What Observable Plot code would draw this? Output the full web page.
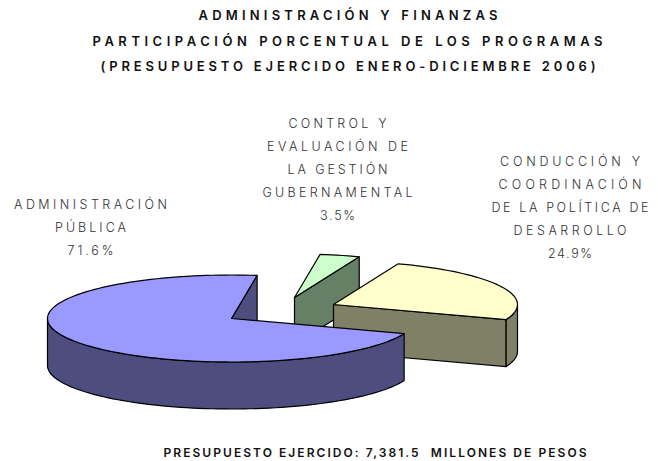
<!DOCTYPE html>
<html><head><meta charset="utf-8">
<script src="https://cdn.jsdelivr.net/npm/d3@7"></script>
<script src="https://cdn.jsdelivr.net/npm/@observablehq/plot@0.6"></script>
<style>html,body{margin:0;padding:0;background:#fff}svg{display:block}</style>
</head><body><div id="chart"></div>
<script>
const categories = ["ADMINISTRACIÓN\nPÚBLICA", "CONDUCCIÓN Y\nCOORDINACIÓN\nDE LA POLÍTICA DE\nDESARROLLO", "CONTROL Y\nEVALUACIÓN DE\nLA GESTIÓN\nGUBERNAMENTAL"];
const shares = [71.6, 24.9, 3.5];
const topColors = ["#9999FF", "#FFFFCC", "#CCFFCC"];
const wallColors = ["#4D4D80", "#808066", "#668066"];
const titleLines = ["ADMINISTRACIÓN Y FINANZAS", "PARTICIPACIÓN PORCENTUAL DE LOS PROGRAMAS", "(PRESUPUESTO EJERCIDO ENERO-DICIEMBRE 2006)"];
const footer = "PRESUPUESTO EJERCIDO: 7,381.5  MILLONES DE PESOS";

// layout of the pie
const cx = 231, cy = 318, rx = 184, ry = 43.5;
const startDeg = 82;          // where the first slice begins
const depth = 47 / ry;        // wall height in radius units
const explode = [[0, 0], [102 / rx, 14 / ry], [63 / rx, 21 / ry]];

// measured width of each line of lettering, used to set its letter spacing
const lineWidths = new Map([
  [titleLines[0], 299], [titleLines[1], 510], [titleLines[2], 495], [footer, 423],
  ["ADMINISTRACIÓN", 153], ["PÚBLICA", 71], ["71.6%", 46],
  ["CONTROL Y", 98], ["EVALUACIÓN DE", 141], ["LA GESTIÓN", 100], ["GUBERNAMENTAL", 150], ["3.5%", 35],
  ["CONDUCCIÓN Y", 140], ["COORDINACIÓN", 143], ["DE LA POLÍTICA DE", 157], ["DESARROLLO", 113], ["24.9%", 44]
]);

const rad = d => d * Math.PI / 180;
const arc = (a0, a1) => {
  const n = Math.max(2, Math.ceil(Math.abs(a1 - a0) / 2));
  return d3.range(n + 1).map(i => a0 + (a1 - a0) * i / n);
};
let acc = startDeg;
const slices = shares.map((s, i) => {
  const a0 = acc, a1 = acc + s * 3.6;
  acc = a1;
  return {a0, a1, ox: explode[i][0], oy: explode[i][1], top: topColors[i], wall: wallColors[i]};
});
const pt = (s, a, drop = 0) => ({x: s.ox + Math.cos(rad(a)), y: s.oy + Math.sin(rad(a)) - drop});
const apex = (s, drop = 0) => ({x: s.ox, y: s.oy - drop});

const poly = (pts, fill) => Plot.line(pts, {x: "x", y: "y", fill, stroke: "#000", strokeWidth: 1.2, strokeLinejoin: "round", curve: "linear-closed"});

// radial face at angle a
const radial = (s, a) => poly([apex(s), pt(s, a), pt(s, a, depth), apex(s, depth)], s.wall);
// outer wall between two angles (front half only)
const outer = (s, a0, a1) => {
  const as = arc(a0, a1);
  return poly([...as.map(a => pt(s, a)), ...as.slice().reverse().map(a => pt(s, a, depth))], s.wall);
};
const topFace = s => poly([apex(s), ...arc(s.a0, s.a1).map(a => pt(s, a))], s.top);

const [blue, yellow, green] = slices;
const textStyle = {fontFamily: "Inter, sans-serif", textAnchor: "middle", lineAnchor: "middle", frameAnchor: "top-left"};

const label = (i, dx, dy) => Plot.text([categories[i] + "\n" + shares[i].toFixed(1) + "%"], {
  text: d => d, dx, dy, lineHeight: 1.84, fontSize: 12.5, fontWeight: 300, fill: "#333", ...textStyle
});
const line = (t, dx, dy, size) => Plot.text([t], {
  text: d => d, dx, dy, fontSize: size, fontWeight: 600, fill: "#111", ...textStyle
});

const plot = Plot.plot({
  width: 658, height: 461, margin: 0,
  x: {axis: null, domain: [-1, 1], range: [cx - rx, cx + rx]},
  y: {axis: null, domain: [-1, 1], range: [cy + ry, cy - ry]},
  marks: [
    radial(green, green.a0),
    topFace(green),
    radial(yellow, yellow.a0),
    outer(yellow, yellow.a0, 360),
    topFace(yellow),
    radial(blue, blue.a0),
    outer(blue, 180, blue.a1),
    topFace(blue),
    line(titleLines[0], 347.5, 15, 13),
    line(titleLines[1], 347, 41, 13),
    line(titleLines[2], 347.5, 66, 13),
    label(0, 90, 224),
    label(2, 337, 166.5),
    label(1, 569.5, 204),
    line(footer, 374.5, 453, 12)
  ]
});
document.getElementById("chart").append(plot);

// fit the letter spacing of each line to its measured width
d3.select(plot).selectAll("text").each(function () {
  const spans = this.querySelectorAll("tspan");
  (spans.length ? [...spans] : [this]).forEach(el => {
    const t = el.textContent, target = lineWidths.get(t);
    if (!target) return;
    const ls = (target - el.getComputedTextLength()) / (t.length - 1);
    el.style.letterSpacing = ls + "px";
    el.setAttribute("dx", ls / 2);
  });
});
</script></body></html>
